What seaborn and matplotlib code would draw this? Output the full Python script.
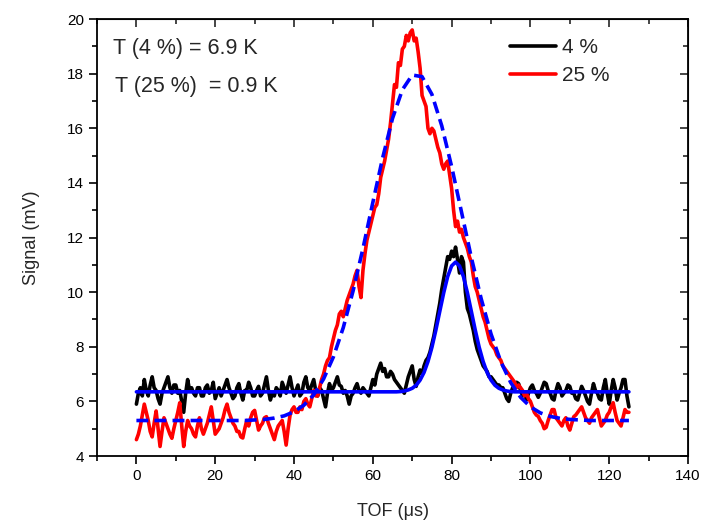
import numpy as np
import pandas as pd
import matplotlib
matplotlib.use('Agg')
import matplotlib.pyplot as plt
import seaborn as sns
from matplotlib.ticker import MultipleLocator

sns.set_style("ticks")
plt.rcParams['font.family'] = ['Liberation Sans', 'DejaVu Sans']

# time of flight grid (us) for the measured traces, 0.5 us steps
tof = np.arange(0, 125.5, 0.5)

# 4 % trace (mV) (one row = 5 us)
sig_4 = [5.9, 6.3, 6.5, 6.2, 6.8, 6.4, 6.2, 6.6, 6.9, 6.5,
         6.4, 6.1, 5.9, 6.3, 6.5, 6.7, 6.9, 6.5, 6.3, 6.6,
         6.6, 6.3, 6.4, 6.0, 5.6, 6.3, 6.8, 6.4, 6.5, 6.3,
         6.2, 6.5, 6.5, 6.2, 6.2, 6.5, 6.6, 6.3, 6.4, 6.7,
         6.1, 6.3, 6.5, 6.2, 6.4, 6.6, 6.8, 6.5, 6.3, 6.1,
         6.2, 6.5, 6.65, 6.3, 6.05, 6.4, 6.4, 6.7, 6.5, 6.2,
         6.2, 6.4, 6.55, 6.2, 6.3, 6.6, 6.9, 6.4, 6.05, 6.3,
         6.2, 6.5, 6.4, 6.2, 6.7, 6.5, 6.3, 6.6, 6.9, 6.5,
         6.2, 6.4, 6.6, 6.2, 6.3, 6.7, 6.9, 6.5, 6.4, 6.6,
         6.8, 6.4, 6.2, 6.5, 6.4, 6.1, 5.8, 6.3, 6.65, 6.4,
         6.5, 6.7, 6.9, 6.6, 6.55, 6.3, 6.4, 6.2, 5.9, 6.2,
         6.3, 6.5, 6.65, 6.4, 6.3, 6.5, 6.4, 6.3, 6.2, 6.5,
         6.8, 6.6, 7.0, 7.2, 7.4, 7.1, 7.2, 6.9, 6.9, 7.1,
         7.0, 6.8, 6.7, 6.6, 6.5, 6.4, 6.3, 6.6, 6.9, 7.1,
         7.3, 6.8, 6.55, 6.9, 7.15, 7.0, 7.3, 7.5, 7.6, 7.8,
         8.1, 8.4, 8.8, 9.2, 9.6, 10.1, 10.5, 10.9, 11.3, 11.2,
         11.5, 11.3, 11.65, 11.2, 10.7, 11.3, 11.1, 10.0, 9.4, 9.2,
         8.9, 8.6, 8.2, 7.9, 7.7, 7.5, 7.3, 7.2, 7.1, 6.9,
         6.9, 6.8, 6.7, 6.6, 6.6, 6.5, 6.5, 6.3, 6.1, 6.0,
         6.3, 6.5, 6.5, 6.7, 6.65, 6.4, 6.2, 6.3, 6.05, 6.3,
         6.5, 6.6, 6.4, 6.3, 6.15, 6.3, 6.5, 6.7, 6.65, 6.4,
         6.3, 6.1, 6.05, 6.4, 6.65, 6.5, 6.2, 6.3, 6.4, 6.6,
         6.55, 6.3, 6.3, 6.1, 6.05, 6.3, 6.55, 6.4, 6.2, 6.0,
         5.9, 6.3, 6.65, 6.4, 6.3, 6.1, 6.05, 6.5, 6.8, 6.3,
         5.9, 6.4, 6.8, 6.5, 6.05, 6.3, 6.5, 6.8, 6.8, 6.2,
         5.8]

# 25 % trace (mV)
sig_25 = [4.6, 4.8, 5.1, 5.5, 5.9, 5.6, 5.3, 4.9, 4.7, 5.2,
          5.65, 5.0, 4.35, 4.9, 5.4, 5.2, 5.0, 4.8, 4.65, 5.0,
          5.3, 5.6, 5.95, 5.1, 4.35, 4.9, 5.3, 5.1, 5.0, 4.8,
          4.7, 5.1, 5.4, 5.0, 4.8, 5.0, 5.2, 5.5, 5.8, 5.3,
          4.8, 4.9, 5.0, 5.2, 5.4, 5.7, 5.9, 5.6, 5.4, 5.2,
          5.1, 4.9, 4.9, 4.7, 4.66, 5.0, 5.3, 5.1, 5.4, 5.6,
          5.67, 5.3, 4.95, 5.1, 5.2, 5.4, 5.44, 5.2, 5.0, 4.8,
          4.6, 4.9, 5.1, 5.2, 5.3, 4.9, 4.4, 5.0, 5.5, 5.7,
          5.8, 5.6, 5.6, 5.8, 5.7, 6.0, 6.1, 5.9, 5.8, 6.1,
          6.4, 6.2, 6.2, 6.5, 6.8, 7.0, 7.3, 7.5, 7.6, 8.0,
          8.3, 8.6, 8.8, 9.2, 9.3, 9.1, 9.4, 9.7, 9.9, 10.1,
          10.3, 10.6, 10.8, 10.2, 9.8, 10.8, 11.4, 11.9, 12.2, 12.5,
          12.8, 13.1, 13.2, 13.6, 14.2, 14.5, 14.8, 15.2, 15.6, 16.2,
          16.9, 17.6, 17.5, 18.4, 18.3, 18.9, 19.0, 19.4, 19.2, 19.5,
          19.6, 19.2, 19.3, 18.8, 18.2, 17.2, 17.0, 16.8, 16.0, 15.8,
          16.0, 15.9, 15.6, 15.3, 15.1, 14.7, 14.5, 14.7, 14.8, 14.3,
          13.8, 13.0, 12.4, 12.6, 12.2, 12.3, 12.0, 11.8, 11.6, 11.3,
          11.1, 10.6, 10.2, 10.0, 9.7, 9.4, 9.1, 8.9, 8.6, 8.3,
          8.1, 8.0, 7.9, 7.7, 7.6, 7.5, 7.3, 7.2, 7.1, 7.0,
          6.9, 6.8, 6.7, 6.5, 6.6, 6.5, 6.4, 6.2, 6.3, 6.1,
          6.0, 5.8, 5.6, 5.5, 5.45, 5.3, 5.2, 5.0, 5.05, 5.3,
          5.5, 5.7, 5.7, 5.4, 5.3, 5.2, 5.1, 5.3, 5.4, 5.1,
          4.95, 5.2, 5.44, 5.5, 5.6, 5.7, 5.8, 5.6, 5.4, 5.3,
          5.2, 5.4, 5.5, 5.6, 5.7, 5.4, 5.1, 5.2, 5.3, 5.5,
          5.6, 5.8, 5.95, 5.6, 5.3, 5.2, 5.1, 5.4, 5.7, 5.6,
          5.6]

# fitted curves
fit4_tof = [0, 66, 67, 68, 69, 70, 71, 72, 73, 74, 75, 76, 77, 78, 79, 80,
            81, 82, 83, 84, 85, 86, 87, 88, 89, 90, 91, 92, 93, 94, 95, 96, 125]
fit4_sig = [6.35, 6.35, 6.36, 6.38, 6.42, 6.48, 6.59, 6.78, 7.06, 7.46, 7.98,
            8.61, 9.30, 9.98, 10.57, 10.96, 11.10, 10.96, 10.57, 9.98, 9.30,
            8.61, 7.98, 7.46, 7.06, 6.78, 6.59, 6.48, 6.42, 6.38, 6.36, 6.35, 6.35]

fit25_tof = [0, 27.5, 30, 32.5, 35, 37.5, 40, 42.5, 45, 47.5, 50, 52.5, 55,
             57.5, 60, 62.5, 65, 67.5, 70, 72.5, 75, 77.5, 80, 82.5, 85, 87.5,
             90, 92.5, 95, 97.5, 100, 102.5, 105, 107.5, 110, 112.5, 115, 125]
fit25_sig = [5.30, 5.30, 5.32, 5.34, 5.39, 5.47, 5.62, 5.86, 6.24, 6.82, 7.63,
             8.70, 10.05, 11.60, 13.28, 14.92, 16.36, 17.41, 17.95, 17.89,
             17.24, 16.09, 14.60, 12.94, 11.27, 9.76, 8.47, 7.45, 6.69, 6.15,
             5.80, 5.58, 5.45, 5.38, 5.34, 5.32, 5.30, 5.30]

df = pd.DataFrame({'tof': tof, 'sig_4': sig_4, 'sig_25': sig_25})

fig = plt.figure(figsize=(7.04, 5.27), dpi=100)
ax = fig.add_axes([0.1378, 0.1347, 0.8395, 0.8292])

sns.lineplot(data=df, x='tof', y='sig_4', color='black', lw=2.6, label='4 %', ax=ax)
sns.lineplot(data=df, x='tof', y='sig_25', color='#ff0000', lw=2.6, label='25 %', ax=ax)
sns.lineplot(x=fit4_tof, y=fit4_sig, color='#0000ff', lw=2.6, ax=ax)
sns.lineplot(x=fit25_tof, y=fit25_sig, color='#0000ff', lw=2.6, ax=ax,
             linestyle=(0, (3.3, 1.7)))

ax.set_xlim(-10, 140)
ax.set_ylim(4, 20)
ax.xaxis.set_major_locator(MultipleLocator(20))
ax.xaxis.set_minor_locator(MultipleLocator(10))
ax.yaxis.set_major_locator(MultipleLocator(2))
ax.yaxis.set_minor_locator(MultipleLocator(1))
ax.tick_params(which='both', direction='out', labelsize=11, width=1.2, colors='black')
ax.tick_params(which='major', length=6)
ax.tick_params(which='minor', length=3.5)
for s in ax.spines.values():
    s.set_visible(True)
    s.set_linewidth(1.3)
    s.set_color('black')

# top / right axes with inward ticks, no labels
top = ax.secondary_xaxis('top')
top.xaxis.set_major_locator(MultipleLocator(20))
top.xaxis.set_minor_locator(MultipleLocator(10))
top.tick_params(which='both', direction='in', labeltop=False, width=1.2)
top.tick_params(which='major', length=6)
top.tick_params(which='minor', length=3.5)
right = ax.secondary_yaxis('right')
right.yaxis.set_major_locator(MultipleLocator(2))
right.yaxis.set_minor_locator(MultipleLocator(1))
right.tick_params(which='both', direction='in', labelright=False, width=1.2)
right.tick_params(which='major', length=6)
right.tick_params(which='minor', length=3.5)

ax.set_xlabel('TOF (μs)', fontsize=13, labelpad=14)
ax.set_ylabel('Signal (mV)', fontsize=13, labelpad=19)

ax.text(0.027, 0.932, 'T (4 %) = 6.9 K', transform=ax.transAxes, fontsize=15.5, va='center')
ax.text(0.030, 0.845, 'T (25 %)  = 0.9 K', transform=ax.transAxes, fontsize=15.5, va='center')

ax.legend(loc='upper left', bbox_to_anchor=(0.685, 0.975), frameon=False, fontsize=15,
          handlelength=2.2, handletextpad=0.3, labelspacing=0.42, borderaxespad=0)

plt.savefig('out.png', dpi=100)
plt.close()
